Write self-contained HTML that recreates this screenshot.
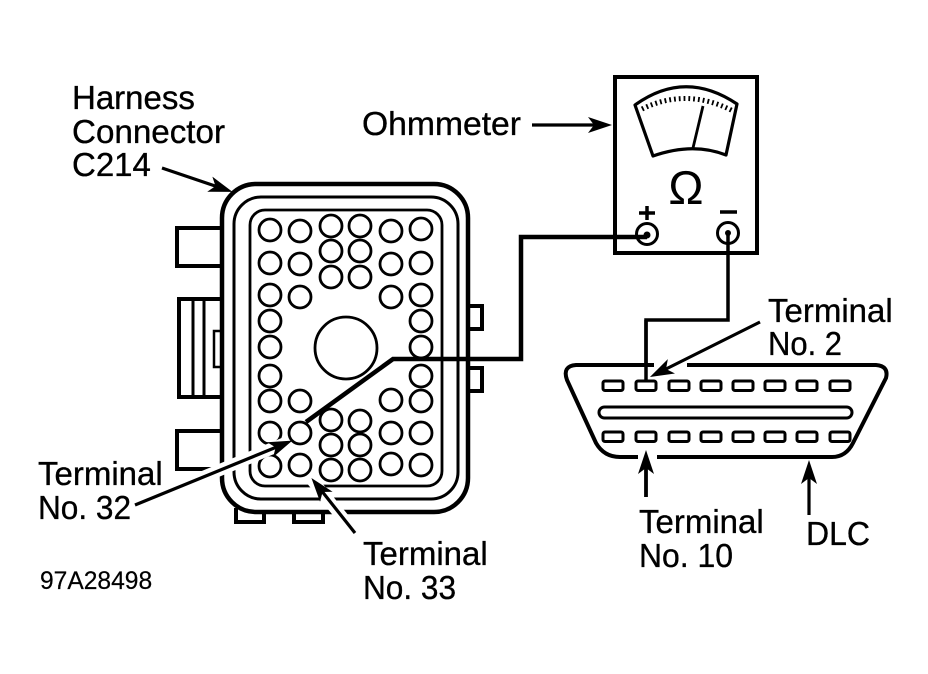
<!DOCTYPE html>
<html>
<head>
<meta charset="utf-8">
<style>
html,body{margin:0;padding:0;background:#fff;width:928px;height:674px;overflow:hidden}
svg{display:block}
text{font-family:"Liberation Sans",sans-serif;font-size:33px;fill:#000;stroke:#000;stroke-width:.35px}
.c circle{fill:none;stroke:#000;stroke-width:2.8;r:11px}
.s rect{fill:#fff;stroke:#000;stroke-width:3}
</style>
</head>
<body>
<svg width="928" height="674" viewBox="0 0 928 674" xmlns="http://www.w3.org/2000/svg">
<defs>
<marker id="a" markerUnits="userSpaceOnUse" markerWidth="34" markerHeight="24" refX="15" refY="12" orient="auto">
<path d="M0,4 L24,12 L0,20 L6,12 Z" fill="#000"/>
</marker>
</defs>
<rect width="928" height="674" fill="#fff"/>

<!-- connector side tabs -->
<g fill="none" stroke="#000">
<path d="M222,228 H177 V266 H222" stroke-width="4"/>
<path d="M222,299 H179 V397 H222" stroke-width="4"/>
<path d="M193,299 V397 M204,299 V397" stroke-width="3"/>
<path d="M222,331 H214 V367 H222" stroke-width="2.5"/>
<path d="M222,431 H177 V469 H222" stroke-width="4"/>
<path d="M470,306 H482 V329 H470" stroke-width="4"/>
<path d="M470,368 H482 V391 H470" stroke-width="4"/>
<path d="M236,508 V522 H264 V510" stroke-width="4"/>
<path d="M294,512 V522 H323 V512" stroke-width="4"/>
</g>

<!-- connector body -->
<rect x="222" y="184" width="246" height="328" rx="34" fill="#fff" stroke="#000" stroke-width="4.5"/>
<rect x="234" y="197" width="224" height="302" rx="27" fill="none" stroke="#000" stroke-width="3"/>
<rect x="250" y="210" width="192" height="276" rx="15" fill="none" stroke="#000" stroke-width="2.8"/>

<!-- pins -->
<g class="c">
<circle cx="270" cy="230"/><circle cx="270" cy="263"/><circle cx="270" cy="295"/><circle cx="270" cy="321"/><circle cx="270" cy="347"/><circle cx="270" cy="376"/><circle cx="270" cy="401"/><circle cx="270" cy="433"/><circle cx="270" cy="466"/>
<circle cx="300" cy="231"/><circle cx="300" cy="264"/><circle cx="300" cy="297"/><circle cx="300" cy="401"/><circle cx="331" cy="226"/><circle cx="331" cy="251"/><circle cx="331" cy="277"/><circle cx="331" cy="420"/><circle cx="331" cy="445"/><circle cx="331" cy="470"/>
<circle cx="360" cy="226"/><circle cx="360" cy="251"/><circle cx="360" cy="277"/><circle cx="360" cy="421"/><circle cx="360" cy="445"/><circle cx="360" cy="470"/>
<circle cx="391" cy="231"/><circle cx="391" cy="264"/><circle cx="391" cy="297"/><circle cx="391" cy="400"/><circle cx="391" cy="433"/><circle cx="391" cy="464"/>
<circle cx="421" cy="229"/><circle cx="421" cy="263"/><circle cx="421" cy="295"/><circle cx="421" cy="321"/><circle cx="421" cy="347"/><circle cx="421" cy="376"/><circle cx="421" cy="401"/><circle cx="421" cy="433"/><circle cx="421" cy="465"/>
</g>
<circle cx="346" cy="348" r="31" fill="none" stroke="#000" stroke-width="2.8"/>

<!-- arrow halos -->
<g stroke="#fff" stroke-width="12" fill="none">
<path d="M135,505 L290,441"/>
<path d="M355,533 L312,480"/>
</g>
<circle cx="300" cy="433" r="11" fill="none" stroke="#000" stroke-width="2.8"/>
<circle cx="300" cy="465" r="11" fill="none" stroke="#000" stroke-width="2.8"/>

<!-- meter -->
<rect x="615" y="77" width="142" height="176" fill="#fff" stroke="#000" stroke-width="4"/>
<path d="M635,105 Q685,69 737,104 L726,155 Q693,142 653,156 Z" fill="none" stroke="#000" stroke-width="3.2" stroke-linejoin="round"/>
<path d="M642,109 Q687,87 733,111" fill="none" stroke="#000" stroke-width="5" stroke-dasharray="1.8 3"/>
<path d="M693,148 L703,106" stroke="#000" stroke-width="2.8"/>
<text x="686" y="204" text-anchor="middle" style="font-size:47px;stroke-width:0">Ω</text>
<path d="M639,213 H655 M647,206 V220 M720,212 H737" stroke="#000" stroke-width="3.5"/>
<circle cx="647" cy="234" r="10.5" fill="#fff" stroke="#000" stroke-width="3"/>
<circle cx="728" cy="233" r="10.5" fill="#fff" stroke="#000" stroke-width="3"/>
<circle cx="728" cy="233" r="3" fill="#000"/>

<!-- wires -->
<path d="M306,422 L393,359 H521 V237 H647" fill="none" stroke="#000" stroke-width="4.5"/>
<circle cx="647" cy="235" r="3.5" fill="#000"/>
<path d="M728,233 V320 H646 V380" fill="none" stroke="#000" stroke-width="3.5"/>

<!-- DLC -->
<path d="M576,365 H876 Q889,366 886,378 L853,443 Q846,457 832,457 H620 Q604,457 596,443 L567,380 Q562,366 576,365 Z" fill="#fff" stroke="#000" stroke-width="4" stroke-linejoin="round"/>
<path d="M646,320 V381" fill="none" stroke="#000" stroke-width="3.5"/>
<g class="s">
<rect x="603" y="381" width="20" height="9.5" rx="2"/><rect x="636" y="381" width="20" height="9.5" rx="2"/><rect x="669" y="381" width="20" height="9.5" rx="2"/><rect x="701" y="381" width="20" height="9.5" rx="2"/><rect x="733" y="381" width="20" height="9.5" rx="2"/><rect x="765" y="381" width="20" height="9.5" rx="2"/><rect x="797" y="381" width="20" height="9.5" rx="2"/><rect x="830" y="381" width="20" height="9.5" rx="2"/>
<rect x="603" y="432" width="20" height="9.5" rx="2"/><rect x="636" y="432" width="20" height="9.5" rx="2"/><rect x="669" y="432" width="20" height="9.5" rx="2"/><rect x="701" y="432" width="20" height="9.5" rx="2"/><rect x="733" y="432" width="20" height="9.5" rx="2"/><rect x="765" y="432" width="20" height="9.5" rx="2"/><rect x="797" y="432" width="20" height="9.5" rx="2"/><rect x="830" y="432" width="20" height="9.5" rx="2"/>
</g>
<rect x="599" y="407" width="253" height="11" rx="5.5" fill="#fff" stroke="#000" stroke-width="3"/>

<!-- arrow gaps in DLC -->
<path d="M654,365 L687,365" stroke="#fff" stroke-width="7"/>
<path d="M638,457 H657" stroke="#fff" stroke-width="7"/>

<!-- arrows -->
<g stroke="#000" fill="none" stroke-width="3.2">
<path d="M162,168 L224,189" marker-end="url(#a)"/>
<path d="M532,125 H603" marker-end="url(#a)"/>
<path d="M760,322 L658,373" marker-end="url(#a)"/>
<path d="M646,497 V459" stroke-width="3.8" marker-end="url(#a)"/>
<path d="M809,515 V469" marker-end="url(#a)"/>
<path d="M135,505 L284,444" marker-end="url(#a)"/>
<path d="M355,533 L317,485" marker-end="url(#a)"/>
</g>

<!-- labels -->
<text x="72" y="109">Harness</text>
<text x="72" y="143" textLength="153" lengthAdjust="spacingAndGlyphs">Connector</text>
<text x="72" y="176">C214</text>
<text x="362" y="135" textLength="159" lengthAdjust="spacingAndGlyphs">Ohmmeter</text>
<text x="768" y="322">Terminal</text>
<text x="768" y="355" textLength="74" lengthAdjust="spacingAndGlyphs">No. 2</text>
<text x="38" y="485">Terminal</text>
<text x="38" y="519" textLength="93" lengthAdjust="spacingAndGlyphs">No. 32</text>
<text x="363" y="565">Terminal</text>
<text x="363" y="599" textLength="93" lengthAdjust="spacingAndGlyphs">No. 33</text>
<text x="639" y="533">Terminal</text>
<text x="639" y="567" textLength="94" lengthAdjust="spacingAndGlyphs">No. 10</text>
<text x="806" y="545" textLength="64" lengthAdjust="spacingAndGlyphs">DLC</text>
<text x="40" y="589" style="font-size:24.6px;stroke-width:.2px">97A28498</text>
</svg>
</body>
</html>
